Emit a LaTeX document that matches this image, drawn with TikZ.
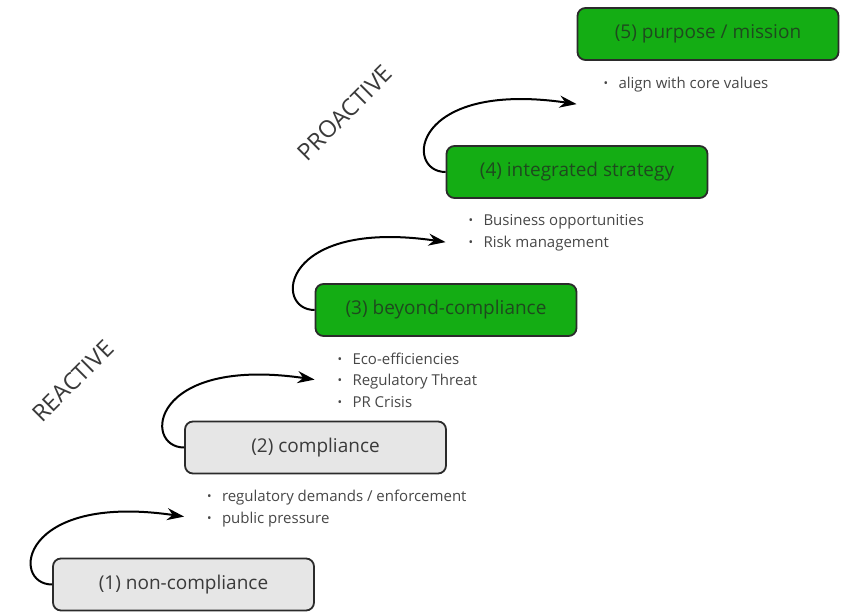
\documentclass[tikz,border=0pt]{standalone}
\usepackage{fontspec}
\setmainfont{Open Sans}
\usetikzlibrary{arrows.meta, positioning, calc}
\definecolor{cedge}{HTML}{2B2B2B}
\definecolor{cgreyfill}{HTML}{E6E6E6}
\definecolor{cgreen}{HTML}{14AD14}
\definecolor{cdarkgreen}{HTML}{1E4A1E}
\definecolor{ctext}{HTML}{3A3A3A}
\definecolor{clist}{HTML}{474747}
\newcommand{\bul}{\makebox[15pt][l]{\raisebox{0.8pt}{\fontsize{12}{12}\selectfont\textbullet}}}
\tikzset{
  every picture/.style={line width=1.8pt},
  stage/.style={draw=cedge, fill=#1, rounded corners=8pt, minimum width=261pt, minimum height=52pt, inner sep=0pt, font=\fontsize{19}{23}\selectfont},
  stage/.default=cgreyfill,
  greystage/.style={stage=cgreyfill, text=ctext},
  greenstage/.style={stage=cgreen, text=cdarkgreen},
  arrow/.style={-{Stealth[length=17pt, width=12pt]}, draw=black, line width=2pt},
  list/.style={align=left, inner sep=0pt, text=clist, font=\fontsize{15}{21.5}\selectfont},
  phase/.style={rotate=45, text=ctext, font=\fontsize{23.5}{28}\selectfont},
}

\begin{document}
\begin{tikzpicture}[x=1pt, y=1pt]
  \useasboundingbox (0,0) rectangle (841,612);
  % stages, bottom left to top right
  \node[greystage] (s1) at (183.5,27.5) {(1) non-compliance};
  \node[greystage] (s2) at (315.5,164.5) {(2) compliance};
  \node[greenstage] (s3) at (446,302) {(3) beyond-compliance};
  \node[greenstage] (s4) at (577,440) {(4) integrated strategy};
  \node[greenstage] (s5) at (708,578) {(5) purpose / mission};
  % drivers under each stage
  \node[list, below right=15pt and 22pt of s2.south west] (l2) {\bul regulatory demands / enforcement\\\bul public pressure};
  \node[list, below right=15pt and 22pt of s3.south west] (l3) {\bul Eco-efficiencies\\\bul Regulatory Threat\\\bul PR Crisis};
  \node[list, below right=15pt and 22pt of s4.south west] (l4) {\bul Business opportunities\\\bul Risk management};
  \node[list, below right=15pt and 26pt of s5.south west] (l5) {\bul align with core values};
  % arrows
  \coordinate (t1) at ($(s2.west |- s1.north)+(0,41)$);
  \coordinate (t2) at ($(s3.west |- s2.north)+(0,41)$);
  \coordinate (t3) at ($(s4.west |- s3.north)+(0,41)$);
  \coordinate (t4) at ($(s5.west |- s4.north)+(0,41)$);
  \draw[arrow] (s1.west) .. controls +(-42,0) and +(-165,24) .. (t1);
  \draw[arrow] (s2.west) .. controls +(-42,0) and +(-165,24) .. (t2);
  \draw[arrow] (s3.west) .. controls +(-42,0) and +(-165,24) .. (t3);
  \draw[arrow] (s4.west) .. controls +(-42,0) and +(-165,24) .. (t4);
  % phase labels
  \node[phase] (reactive) at (73,231) {REACTIVE};
  \node[phase] (proactive) at (345,499) {PROACTIVE};
\end{tikzpicture}
\end{document}
